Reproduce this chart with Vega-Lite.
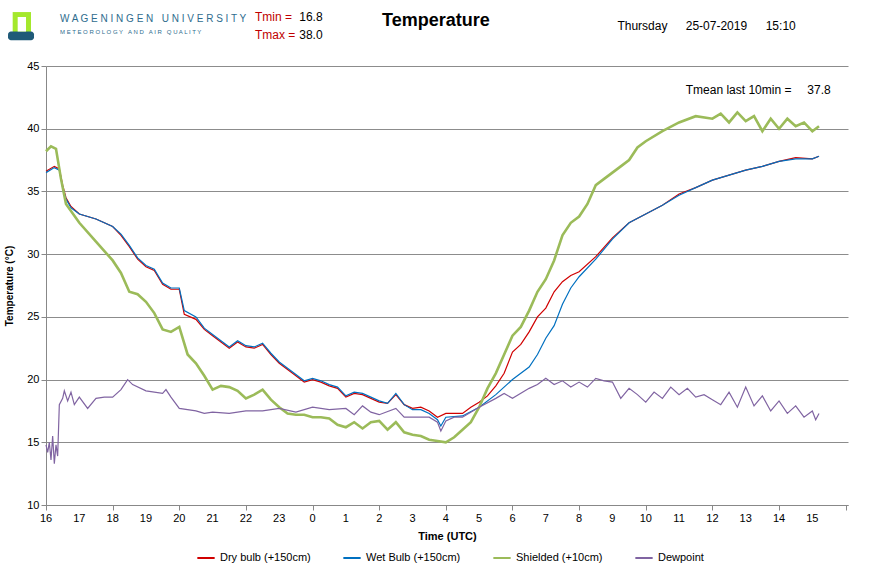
{
  "$schema": "https://vega.github.io/schema/vega-lite/v6.json",
  "autosize": "none",
  "padding": {"left": 46, "top": 66, "right": 31, "bottom": 69},
  "width": 802,
  "height": 439,
  "background": "white",
  "config": {"view": {"stroke": null}, "font": "Liberation Sans"},
  "datasets": {
    "temps": [
      {"h":0,"s":"Dry bulb (+150cm)","t":36.6},{"h":0.25,"s":"Dry bulb (+150cm)","t":37.0},{"h":0.4,"s":"Dry bulb (+150cm)","t":36.8},{"h":0.5,"s":"Dry bulb (+150cm)","t":35.5},{"h":0.6,"s":"Dry bulb (+150cm)","t":34.5},{"h":0.75,"s":"Dry bulb (+150cm)","t":33.8},{"h":1,"s":"Dry bulb (+150cm)","t":33.2},{"h":1.5,"s":"Dry bulb (+150cm)","t":32.8},{"h":2,"s":"Dry bulb (+150cm)","t":32.2},{"h":2.25,"s":"Dry bulb (+150cm)","t":31.5},{"h":2.5,"s":"Dry bulb (+150cm)","t":30.6},{"h":2.75,"s":"Dry bulb (+150cm)","t":29.6},{"h":3,"s":"Dry bulb (+150cm)","t":29.0},{"h":3.25,"s":"Dry bulb (+150cm)","t":28.7},{"h":3.5,"s":"Dry bulb (+150cm)","t":27.6},{"h":3.75,"s":"Dry bulb (+150cm)","t":27.2},{"h":4,"s":"Dry bulb (+150cm)","t":27.2},{"h":4.15,"s":"Dry bulb (+150cm)","t":25.2},{"h":4.5,"s":"Dry bulb (+150cm)","t":24.8},{"h":4.75,"s":"Dry bulb (+150cm)","t":24.0},{"h":5,"s":"Dry bulb (+150cm)","t":23.5},{"h":5.25,"s":"Dry bulb (+150cm)","t":23.0},{"h":5.5,"s":"Dry bulb (+150cm)","t":22.5},{"h":5.75,"s":"Dry bulb (+150cm)","t":23.0},{"h":6,"s":"Dry bulb (+150cm)","t":22.6},{"h":6.25,"s":"Dry bulb (+150cm)","t":22.5},{"h":6.5,"s":"Dry bulb (+150cm)","t":22.8},{"h":6.75,"s":"Dry bulb (+150cm)","t":22.0},{"h":7,"s":"Dry bulb (+150cm)","t":21.3},{"h":7.25,"s":"Dry bulb (+150cm)","t":20.8},{"h":7.5,"s":"Dry bulb (+150cm)","t":20.3},{"h":7.75,"s":"Dry bulb (+150cm)","t":19.8},{"h":8,"s":"Dry bulb (+150cm)","t":20.0},{"h":8.25,"s":"Dry bulb (+150cm)","t":19.8},{"h":8.5,"s":"Dry bulb (+150cm)","t":19.5},{"h":8.75,"s":"Dry bulb (+150cm)","t":19.3},{"h":9,"s":"Dry bulb (+150cm)","t":18.6},{"h":9.25,"s":"Dry bulb (+150cm)","t":18.9},{"h":9.5,"s":"Dry bulb (+150cm)","t":18.8},{"h":9.75,"s":"Dry bulb (+150cm)","t":18.5},{"h":10,"s":"Dry bulb (+150cm)","t":18.2},{"h":10.25,"s":"Dry bulb (+150cm)","t":18.1},{"h":10.5,"s":"Dry bulb (+150cm)","t":18.8},{"h":10.75,"s":"Dry bulb (+150cm)","t":18.0},{"h":11,"s":"Dry bulb (+150cm)","t":17.7},{"h":11.25,"s":"Dry bulb (+150cm)","t":17.8},{"h":11.5,"s":"Dry bulb (+150cm)","t":17.5},{"h":11.75,"s":"Dry bulb (+150cm)","t":17.0},{"h":12,"s":"Dry bulb (+150cm)","t":17.3},{"h":12.25,"s":"Dry bulb (+150cm)","t":17.3},{"h":12.5,"s":"Dry bulb (+150cm)","t":17.3},{"h":12.75,"s":"Dry bulb (+150cm)","t":17.8},{"h":13,"s":"Dry bulb (+150cm)","t":18.2},{"h":13.25,"s":"Dry bulb (+150cm)","t":18.7},{"h":13.5,"s":"Dry bulb (+150cm)","t":19.5},{"h":13.75,"s":"Dry bulb (+150cm)","t":20.5},{"h":14,"s":"Dry bulb (+150cm)","t":22.2},{"h":14.25,"s":"Dry bulb (+150cm)","t":22.8},{"h":14.5,"s":"Dry bulb (+150cm)","t":23.8},{"h":14.75,"s":"Dry bulb (+150cm)","t":25.0},{"h":15,"s":"Dry bulb (+150cm)","t":25.7},{"h":15.25,"s":"Dry bulb (+150cm)","t":27.0},{"h":15.5,"s":"Dry bulb (+150cm)","t":27.8},{"h":15.75,"s":"Dry bulb (+150cm)","t":28.3},{"h":16,"s":"Dry bulb (+150cm)","t":28.6},{"h":16.5,"s":"Dry bulb (+150cm)","t":29.8},{"h":17,"s":"Dry bulb (+150cm)","t":31.3},{"h":17.5,"s":"Dry bulb (+150cm)","t":32.5},{"h":18,"s":"Dry bulb (+150cm)","t":33.2},{"h":18.5,"s":"Dry bulb (+150cm)","t":33.9},{"h":19,"s":"Dry bulb (+150cm)","t":34.8},{"h":19.5,"s":"Dry bulb (+150cm)","t":35.3},{"h":20,"s":"Dry bulb (+150cm)","t":35.9},{"h":20.5,"s":"Dry bulb (+150cm)","t":36.3},{"h":21,"s":"Dry bulb (+150cm)","t":36.7},{"h":21.5,"s":"Dry bulb (+150cm)","t":37.0},{"h":22,"s":"Dry bulb (+150cm)","t":37.4},{"h":22.5,"s":"Dry bulb (+150cm)","t":37.7},{"h":23,"s":"Dry bulb (+150cm)","t":37.6},{"h":23.2,"s":"Dry bulb (+150cm)","t":37.8},

      {"h":0,"s":"Wet Bulb (+150cm)","t":36.5},{"h":0.25,"s":"Wet Bulb (+150cm)","t":36.9},{"h":0.4,"s":"Wet Bulb (+150cm)","t":36.7},{"h":0.5,"s":"Wet Bulb (+150cm)","t":35.3},{"h":0.6,"s":"Wet Bulb (+150cm)","t":34.4},{"h":0.75,"s":"Wet Bulb (+150cm)","t":33.7},{"h":1,"s":"Wet Bulb (+150cm)","t":33.2},{"h":1.5,"s":"Wet Bulb (+150cm)","t":32.8},{"h":2,"s":"Wet Bulb (+150cm)","t":32.2},{"h":2.25,"s":"Wet Bulb (+150cm)","t":31.6},{"h":2.5,"s":"Wet Bulb (+150cm)","t":30.7},{"h":2.75,"s":"Wet Bulb (+150cm)","t":29.7},{"h":3,"s":"Wet Bulb (+150cm)","t":29.1},{"h":3.25,"s":"Wet Bulb (+150cm)","t":28.8},{"h":3.5,"s":"Wet Bulb (+150cm)","t":27.7},{"h":3.75,"s":"Wet Bulb (+150cm)","t":27.3},{"h":4,"s":"Wet Bulb (+150cm)","t":27.3},{"h":4.15,"s":"Wet Bulb (+150cm)","t":25.5},{"h":4.5,"s":"Wet Bulb (+150cm)","t":25.0},{"h":4.75,"s":"Wet Bulb (+150cm)","t":24.1},{"h":5,"s":"Wet Bulb (+150cm)","t":23.6},{"h":5.25,"s":"Wet Bulb (+150cm)","t":23.1},{"h":5.5,"s":"Wet Bulb (+150cm)","t":22.6},{"h":5.75,"s":"Wet Bulb (+150cm)","t":23.1},{"h":6,"s":"Wet Bulb (+150cm)","t":22.7},{"h":6.25,"s":"Wet Bulb (+150cm)","t":22.6},{"h":6.5,"s":"Wet Bulb (+150cm)","t":22.9},{"h":6.75,"s":"Wet Bulb (+150cm)","t":22.1},{"h":7,"s":"Wet Bulb (+150cm)","t":21.4},{"h":7.25,"s":"Wet Bulb (+150cm)","t":20.9},{"h":7.5,"s":"Wet Bulb (+150cm)","t":20.4},{"h":7.75,"s":"Wet Bulb (+150cm)","t":19.9},{"h":8,"s":"Wet Bulb (+150cm)","t":20.1},{"h":8.25,"s":"Wet Bulb (+150cm)","t":19.9},{"h":8.5,"s":"Wet Bulb (+150cm)","t":19.6},{"h":8.75,"s":"Wet Bulb (+150cm)","t":19.4},{"h":9,"s":"Wet Bulb (+150cm)","t":18.7},{"h":9.25,"s":"Wet Bulb (+150cm)","t":19.0},{"h":9.5,"s":"Wet Bulb (+150cm)","t":18.9},{"h":9.75,"s":"Wet Bulb (+150cm)","t":18.6},{"h":10,"s":"Wet Bulb (+150cm)","t":18.3},{"h":10.25,"s":"Wet Bulb (+150cm)","t":18.1},{"h":10.5,"s":"Wet Bulb (+150cm)","t":18.9},{"h":10.75,"s":"Wet Bulb (+150cm)","t":18.0},{"h":11,"s":"Wet Bulb (+150cm)","t":17.6},{"h":11.25,"s":"Wet Bulb (+150cm)","t":17.6},{"h":11.5,"s":"Wet Bulb (+150cm)","t":17.3},{"h":11.75,"s":"Wet Bulb (+150cm)","t":16.8},{"h":11.85,"s":"Wet Bulb (+150cm)","t":16.3},{"h":12,"s":"Wet Bulb (+150cm)","t":17.0},{"h":12.5,"s":"Wet Bulb (+150cm)","t":17.1},{"h":13,"s":"Wet Bulb (+150cm)","t":17.8},{"h":13.5,"s":"Wet Bulb (+150cm)","t":18.8},{"h":14,"s":"Wet Bulb (+150cm)","t":20.0},{"h":14.5,"s":"Wet Bulb (+150cm)","t":21.0},{"h":14.75,"s":"Wet Bulb (+150cm)","t":22.0},{"h":15,"s":"Wet Bulb (+150cm)","t":23.3},{"h":15.25,"s":"Wet Bulb (+150cm)","t":24.3},{"h":15.5,"s":"Wet Bulb (+150cm)","t":26.0},{"h":15.75,"s":"Wet Bulb (+150cm)","t":27.3},{"h":16,"s":"Wet Bulb (+150cm)","t":28.2},{"h":16.5,"s":"Wet Bulb (+150cm)","t":29.6},{"h":17,"s":"Wet Bulb (+150cm)","t":31.2},{"h":17.5,"s":"Wet Bulb (+150cm)","t":32.5},{"h":18,"s":"Wet Bulb (+150cm)","t":33.2},{"h":18.5,"s":"Wet Bulb (+150cm)","t":33.9},{"h":19,"s":"Wet Bulb (+150cm)","t":34.7},{"h":19.5,"s":"Wet Bulb (+150cm)","t":35.3},{"h":20,"s":"Wet Bulb (+150cm)","t":35.9},{"h":20.5,"s":"Wet Bulb (+150cm)","t":36.3},{"h":21,"s":"Wet Bulb (+150cm)","t":36.7},{"h":21.5,"s":"Wet Bulb (+150cm)","t":37.0},{"h":22,"s":"Wet Bulb (+150cm)","t":37.4},{"h":22.5,"s":"Wet Bulb (+150cm)","t":37.6},{"h":23,"s":"Wet Bulb (+150cm)","t":37.6},{"h":23.2,"s":"Wet Bulb (+150cm)","t":37.8},

      {"h":0,"s":"Shielded (+10cm)","t":38.2},{"h":0.15,"s":"Shielded (+10cm)","t":38.6},{"h":0.3,"s":"Shielded (+10cm)","t":38.4},{"h":0.45,"s":"Shielded (+10cm)","t":36.0},{"h":0.6,"s":"Shielded (+10cm)","t":34.0},{"h":1,"s":"Shielded (+10cm)","t":32.5},{"h":1.5,"s":"Shielded (+10cm)","t":31.0},{"h":2,"s":"Shielded (+10cm)","t":29.5},{"h":2.25,"s":"Shielded (+10cm)","t":28.5},{"h":2.5,"s":"Shielded (+10cm)","t":27.0},{"h":2.75,"s":"Shielded (+10cm)","t":26.8},{"h":3,"s":"Shielded (+10cm)","t":26.2},{"h":3.25,"s":"Shielded (+10cm)","t":25.3},{"h":3.5,"s":"Shielded (+10cm)","t":24.0},{"h":3.75,"s":"Shielded (+10cm)","t":23.8},{"h":4,"s":"Shielded (+10cm)","t":24.2},{"h":4.25,"s":"Shielded (+10cm)","t":22.0},{"h":4.5,"s":"Shielded (+10cm)","t":21.3},{"h":4.75,"s":"Shielded (+10cm)","t":20.3},{"h":5,"s":"Shielded (+10cm)","t":19.2},{"h":5.25,"s":"Shielded (+10cm)","t":19.5},{"h":5.5,"s":"Shielded (+10cm)","t":19.4},{"h":5.75,"s":"Shielded (+10cm)","t":19.1},{"h":6,"s":"Shielded (+10cm)","t":18.5},{"h":6.25,"s":"Shielded (+10cm)","t":18.8},{"h":6.5,"s":"Shielded (+10cm)","t":19.2},{"h":6.75,"s":"Shielded (+10cm)","t":18.4},{"h":7,"s":"Shielded (+10cm)","t":17.8},{"h":7.25,"s":"Shielded (+10cm)","t":17.3},{"h":7.5,"s":"Shielded (+10cm)","t":17.2},{"h":7.75,"s":"Shielded (+10cm)","t":17.2},{"h":8,"s":"Shielded (+10cm)","t":17.0},{"h":8.25,"s":"Shielded (+10cm)","t":17.0},{"h":8.5,"s":"Shielded (+10cm)","t":16.9},{"h":8.75,"s":"Shielded (+10cm)","t":16.4},{"h":9,"s":"Shielded (+10cm)","t":16.2},{"h":9.25,"s":"Shielded (+10cm)","t":16.6},{"h":9.5,"s":"Shielded (+10cm)","t":16.1},{"h":9.75,"s":"Shielded (+10cm)","t":16.6},{"h":10,"s":"Shielded (+10cm)","t":16.7},{"h":10.25,"s":"Shielded (+10cm)","t":16.0},{"h":10.5,"s":"Shielded (+10cm)","t":16.6},{"h":10.75,"s":"Shielded (+10cm)","t":15.8},{"h":11,"s":"Shielded (+10cm)","t":15.6},{"h":11.25,"s":"Shielded (+10cm)","t":15.5},{"h":11.5,"s":"Shielded (+10cm)","t":15.2},{"h":11.75,"s":"Shielded (+10cm)","t":15.1},{"h":12,"s":"Shielded (+10cm)","t":15.0},{"h":12.25,"s":"Shielded (+10cm)","t":15.4},{"h":12.5,"s":"Shielded (+10cm)","t":16.0},{"h":12.75,"s":"Shielded (+10cm)","t":16.6},{"h":13,"s":"Shielded (+10cm)","t":17.8},{"h":13.25,"s":"Shielded (+10cm)","t":19.3},{"h":13.5,"s":"Shielded (+10cm)","t":20.5},{"h":13.75,"s":"Shielded (+10cm)","t":22.0},{"h":14,"s":"Shielded (+10cm)","t":23.5},{"h":14.25,"s":"Shielded (+10cm)","t":24.2},{"h":14.5,"s":"Shielded (+10cm)","t":25.5},{"h":14.75,"s":"Shielded (+10cm)","t":27.0},{"h":15,"s":"Shielded (+10cm)","t":28.0},{"h":15.25,"s":"Shielded (+10cm)","t":29.5},{"h":15.5,"s":"Shielded (+10cm)","t":31.5},{"h":15.75,"s":"Shielded (+10cm)","t":32.5},{"h":16,"s":"Shielded (+10cm)","t":33.0},{"h":16.25,"s":"Shielded (+10cm)","t":34.0},{"h":16.5,"s":"Shielded (+10cm)","t":35.5},{"h":16.75,"s":"Shielded (+10cm)","t":36.0},{"h":17,"s":"Shielded (+10cm)","t":36.5},{"h":17.25,"s":"Shielded (+10cm)","t":37.0},{"h":17.5,"s":"Shielded (+10cm)","t":37.5},{"h":17.75,"s":"Shielded (+10cm)","t":38.5},{"h":18,"s":"Shielded (+10cm)","t":39.0},{"h":18.5,"s":"Shielded (+10cm)","t":39.8},{"h":19,"s":"Shielded (+10cm)","t":40.5},{"h":19.5,"s":"Shielded (+10cm)","t":41.0},{"h":20,"s":"Shielded (+10cm)","t":40.8},{"h":20.25,"s":"Shielded (+10cm)","t":41.2},{"h":20.5,"s":"Shielded (+10cm)","t":40.5},{"h":20.75,"s":"Shielded (+10cm)","t":41.3},{"h":21,"s":"Shielded (+10cm)","t":40.6},{"h":21.25,"s":"Shielded (+10cm)","t":41.0},{"h":21.5,"s":"Shielded (+10cm)","t":39.8},{"h":21.75,"s":"Shielded (+10cm)","t":40.8},{"h":22,"s":"Shielded (+10cm)","t":40.0},{"h":22.25,"s":"Shielded (+10cm)","t":40.8},{"h":22.5,"s":"Shielded (+10cm)","t":40.2},{"h":22.75,"s":"Shielded (+10cm)","t":40.5},{"h":23,"s":"Shielded (+10cm)","t":39.8},{"h":23.2,"s":"Shielded (+10cm)","t":40.2},

      {"h":0,"s":"Dewpoint","t":14.8},{"h":0.05,"s":"Dewpoint","t":14.2},{"h":0.1,"s":"Dewpoint","t":15.0},{"h":0.15,"s":"Dewpoint","t":13.6},{"h":0.2,"s":"Dewpoint","t":15.5},{"h":0.25,"s":"Dewpoint","t":13.3},{"h":0.3,"s":"Dewpoint","t":14.8},{"h":0.35,"s":"Dewpoint","t":13.9},{"h":0.4,"s":"Dewpoint","t":18.0},{"h":0.5,"s":"Dewpoint","t":18.5},{"h":0.55,"s":"Dewpoint","t":19.1},{"h":0.65,"s":"Dewpoint","t":18.3},{"h":0.75,"s":"Dewpoint","t":19.0},{"h":0.85,"s":"Dewpoint","t":18.0},{"h":1,"s":"Dewpoint","t":18.6},{"h":1.25,"s":"Dewpoint","t":17.7},{"h":1.5,"s":"Dewpoint","t":18.5},{"h":1.75,"s":"Dewpoint","t":18.6},{"h":2,"s":"Dewpoint","t":18.6},{"h":2.25,"s":"Dewpoint","t":19.2},{"h":2.45,"s":"Dewpoint","t":20.0},{"h":2.6,"s":"Dewpoint","t":19.6},{"h":3,"s":"Dewpoint","t":19.1},{"h":3.5,"s":"Dewpoint","t":18.9},{"h":3.6,"s":"Dewpoint","t":19.2},{"h":3.75,"s":"Dewpoint","t":18.6},{"h":4,"s":"Dewpoint","t":17.7},{"h":4.5,"s":"Dewpoint","t":17.5},{"h":4.75,"s":"Dewpoint","t":17.3},{"h":5,"s":"Dewpoint","t":17.4},{"h":5.5,"s":"Dewpoint","t":17.3},{"h":6,"s":"Dewpoint","t":17.5},{"h":6.5,"s":"Dewpoint","t":17.5},{"h":7,"s":"Dewpoint","t":17.7},{"h":7.5,"s":"Dewpoint","t":17.4},{"h":8,"s":"Dewpoint","t":17.8},{"h":8.5,"s":"Dewpoint","t":17.6},{"h":9,"s":"Dewpoint","t":17.7},{"h":9.25,"s":"Dewpoint","t":17.2},{"h":9.5,"s":"Dewpoint","t":17.9},{"h":9.75,"s":"Dewpoint","t":17.4},{"h":10,"s":"Dewpoint","t":17.2},{"h":10.5,"s":"Dewpoint","t":17.7},{"h":10.75,"s":"Dewpoint","t":17.0},{"h":11,"s":"Dewpoint","t":17.0},{"h":11.5,"s":"Dewpoint","t":17.0},{"h":11.75,"s":"Dewpoint","t":16.6},{"h":11.85,"s":"Dewpoint","t":15.9},{"h":12,"s":"Dewpoint","t":16.7},{"h":12.25,"s":"Dewpoint","t":17.0},{"h":12.5,"s":"Dewpoint","t":17.0},{"h":13,"s":"Dewpoint","t":17.8},{"h":13.5,"s":"Dewpoint","t":18.5},{"h":13.75,"s":"Dewpoint","t":18.9},{"h":14,"s":"Dewpoint","t":18.5},{"h":14.5,"s":"Dewpoint","t":19.3},{"h":14.75,"s":"Dewpoint","t":19.6},{"h":15,"s":"Dewpoint","t":20.1},{"h":15.25,"s":"Dewpoint","t":19.6},{"h":15.5,"s":"Dewpoint","t":19.9},{"h":15.75,"s":"Dewpoint","t":19.4},{"h":16,"s":"Dewpoint","t":19.8},{"h":16.25,"s":"Dewpoint","t":19.4},{"h":16.5,"s":"Dewpoint","t":20.1},{"h":16.75,"s":"Dewpoint","t":19.9},{"h":17,"s":"Dewpoint","t":19.8},{"h":17.25,"s":"Dewpoint","t":18.5},{"h":17.5,"s":"Dewpoint","t":19.3},{"h":17.75,"s":"Dewpoint","t":18.8},{"h":18,"s":"Dewpoint","t":18.2},{"h":18.25,"s":"Dewpoint","t":19.0},{"h":18.5,"s":"Dewpoint","t":18.5},{"h":18.75,"s":"Dewpoint","t":19.4},{"h":19,"s":"Dewpoint","t":18.8},{"h":19.25,"s":"Dewpoint","t":19.3},{"h":19.5,"s":"Dewpoint","t":18.6},{"h":19.75,"s":"Dewpoint","t":18.8},{"h":20,"s":"Dewpoint","t":18.4},{"h":20.25,"s":"Dewpoint","t":18.0},{"h":20.5,"s":"Dewpoint","t":19.0},{"h":20.75,"s":"Dewpoint","t":17.8},{"h":21,"s":"Dewpoint","t":19.4},{"h":21.25,"s":"Dewpoint","t":17.9},{"h":21.5,"s":"Dewpoint","t":18.7},{"h":21.75,"s":"Dewpoint","t":17.5},{"h":22,"s":"Dewpoint","t":18.3},{"h":22.25,"s":"Dewpoint","t":17.3},{"h":22.5,"s":"Dewpoint","t":17.9},{"h":22.75,"s":"Dewpoint","t":17.0},{"h":23,"s":"Dewpoint","t":17.5},{"h":23.1,"s":"Dewpoint","t":16.8},{"h":23.2,"s":"Dewpoint","t":17.3}
    ],
    "hours": [
      {"h":0,"lab":"16"},{"h":1,"lab":"17"},{"h":2,"lab":"18"},{"h":3,"lab":"19"},{"h":4,"lab":"20"},{"h":5,"lab":"21"},{"h":6,"lab":"22"},{"h":7,"lab":"23"},{"h":8,"lab":"0"},{"h":9,"lab":"1"},{"h":10,"lab":"2"},{"h":11,"lab":"3"},{"h":12,"lab":"4"},{"h":13,"lab":"5"},{"h":14,"lab":"6"},{"h":15,"lab":"7"},{"h":16,"lab":"8"},{"h":17,"lab":"9"},{"h":18,"lab":"10"},{"h":19,"lab":"11"},{"h":20,"lab":"12"},{"h":21,"lab":"13"},{"h":22,"lab":"14"},{"h":23,"lab":"15"}
    ]
  },
  "layer": [
    {
      "data": {"name": "temps"},
      "mark": {"type": "line", "interpolate": "linear"},
      "encoding": {
        "x": {
          "field": "h", "type": "quantitative",
          "scale": {"domain": [0, 24.07], "nice": false, "zero": false},
          "axis": {
            "title": "Time (UTC)", "titleFontSize": 11, "titleFontWeight": "bold", "titleAnchor": "middle",
            "titlePadding": 20, "labels": false,
            "values": [0,1,2,3,4,5,6,7,8,9,10,11,12,13,14,15,16,17,18,19,20,21,22,23,24],
            "grid": false,
            "domainColor": "#888888", "tickColor": "#888888", "tickSize": 5
          }
        },
        "y": {
          "field": "t", "type": "quantitative",
          "scale": {"domain": [10, 45], "nice": false, "zero": false},
          "axis": {
            "title": "Temperature (°C)", "titleFontSize": 10, "titleFontWeight": "bold",
            "values": [10, 15, 20, 25, 30, 35, 40, 45], "labelOverlap": false,
            "labelFontSize": 11, "labelColor": "black", "gridColor": "#8c8c8c",
            "domainColor": "#888888", "tickColor": "#888888", "tickSize": 5, "titlePadding": 12
          }
        },
        "color": {
          "field": "s", "type": "nominal",
          "scale": {
            "domain": ["Dry bulb (+150cm)", "Wet Bulb (+150cm)", "Shielded (+10cm)", "Dewpoint"],
            "range": ["#d00000", "#0070c0", "#9bbb59", "#8064a2"]
          },
          "legend": {
            "title": null, "orient": "none", "direction": "horizontal",
            "legendX": 150, "legendY": 482, "symbolType": "stroke", "symbolSize": 300,
            "symbolStrokeWidth": 2, "labelFontSize": 11, "columnPadding": 28
          }
        },
        "strokeWidth": {
          "condition": {"test": "datum.s == 'Shielded (+10cm)'", "value": 2.6},
          "value": 1.2
        },
        "order": {"field": "h", "type": "quantitative"}
      }
    },
    {
      "data": {"name": "hours"},
      "mark": {"type": "text", "baseline": "top", "dy": 8, "fontSize": 11, "color": "black"},
      "encoding": {
        "x": {"field": "h", "type": "quantitative"},
        "y": {"datum": 10, "type": "quantitative"},
        "text": {"field": "lab"}
      }
    },
    {
      "data": {"values": [{"x": -1.0, "x2": -0.45, "y": 49.3, "y2": 47.7}]},
      "mark": {"type": "rect", "color": "#a4e82c"},
      "encoding": {
        "x": {"field": "x", "type": "quantitative"}, "x2": {"field": "x2"},
        "y": {"field": "y", "type": "quantitative"}, "y2": {"field": "y2"}
      }
    },
    {
      "data": {"values": [{"x": -1.14, "x2": -0.36, "y": 47.75, "y2": 47.05}]},
      "mark": {"type": "rect", "color": "#1f5a78", "cornerRadius": 3},
      "encoding": {
        "x": {"field": "x", "type": "quantitative"}, "x2": {"field": "x2"},
        "y": {"field": "y", "type": "quantitative"}, "y2": {"field": "y2"}
      }
    },
    {
      "data": {"values": [{"x": -0.85, "x2": -0.6, "y": 48.9, "y2": 47.75}]},
      "mark": {"type": "rect", "color": "white"},
      "encoding": {
        "x": {"field": "x", "type": "quantitative"}, "x2": {"field": "x2"},
        "y": {"field": "y", "type": "quantitative"}, "y2": {"field": "y2"}
      }
    },
    {
      "data": {"values": [{"x": 0.42, "y": 48.75, "t": "W A G E N I N G E N\u00a0\u00a0\u00a0U N I V E R S I T Y"}]},
      "mark": {"type": "text", "align": "left", "baseline": "middle", "fontSize": 10, "color": "#2e6c8e"},
      "encoding": {"x": {"field": "x", "type": "quantitative"}, "y": {"field": "y", "type": "quantitative"}, "text": {"field": "t"}}
    },
    {
      "data": {"values": [{"x": 0.42, "y": 47.75, "t": "M E T E O R O L O G Y\u00a0\u00a0\u00a0A N D\u00a0\u00a0\u00a0A I R\u00a0\u00a0\u00a0Q U A L I T Y"}]},
      "mark": {"type": "text", "align": "left", "baseline": "middle", "fontSize": 6, "color": "#2e6c8e"},
      "encoding": {"x": {"field": "x", "type": "quantitative"}, "y": {"field": "y", "type": "quantitative"}, "text": {"field": "t"}}
    },
    {
      "data": {"values": [{"x": 6.27, "y": 48.9, "t": "Tmin ="}, {"x": 6.27, "y": 47.5, "t": "Tmax ="}]},
      "mark": {"type": "text", "align": "left", "baseline": "middle", "fontSize": 12, "color": "#c00000"},
      "encoding": {"x": {"field": "x", "type": "quantitative"}, "y": {"field": "y", "type": "quantitative"}, "text": {"field": "t"}}
    },
    {
      "data": {"values": [
        {"x": 7.6, "y": 48.9, "t": "16.8"}, {"x": 7.6, "y": 47.5, "t": "38.0"},
        {"x": 17.15, "y": 48.2, "t": "Thursday"}, {"x": 19.2, "y": 48.2, "t": "25-07-2019"}, {"x": 21.6, "y": 48.2, "t": "15:10"},
        {"x": 19.2, "y": 43.1, "t": "Tmean  last 10min ="}, {"x": 22.85, "y": 43.1, "t": "37.8"}
      ]},
      "mark": {"type": "text", "align": "left", "baseline": "middle", "fontSize": 12, "color": "black"},
      "encoding": {"x": {"field": "x", "type": "quantitative"}, "y": {"field": "y", "type": "quantitative"}, "text": {"field": "t"}}
    },
    {
      "data": {"values": [{"x": 11.7, "y": 48.6, "t": "Temperature"}]},
      "mark": {"type": "text", "align": "center", "baseline": "middle", "fontSize": 18, "fontWeight": "bold", "color": "black"},
      "encoding": {"x": {"field": "x", "type": "quantitative"}, "y": {"field": "y", "type": "quantitative"}, "text": {"field": "t"}}
    }
  ]
}
